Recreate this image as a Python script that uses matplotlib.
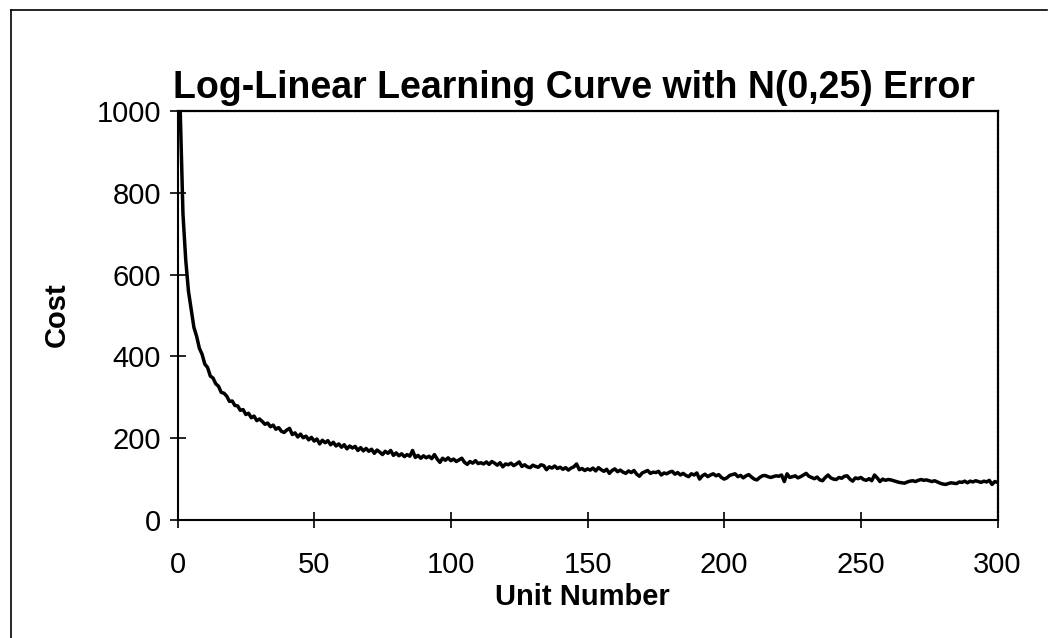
import matplotlib
matplotlib.use("Agg")
import matplotlib.pyplot as plt
from matplotlib.lines import Line2D

# Unit cost for units 1..300: log-linear learning curve with N(0,25) error
unit_cost = [
    1000, 748, 637, 560, 516, 471, 449, 420, 405, 381,
    373, 352, 347, 333, 327, 312, 310, 303, 290, 291,
    280, 279, 268, 270, 258, 261, 250, 254, 243, 247,
    241, 234, 237, 228, 232, 222, 226, 217, 214, 220,
    224, 209, 213, 203, 210, 201, 205, 196, 202, 193,
    198, 186, 195, 189, 194, 184, 190, 181, 186, 178,
    184, 174, 181, 176, 180, 170, 177, 169, 175, 168,
    173, 163, 171, 166, 160, 168, 163, 170, 158, 164,
    157, 162, 155, 160, 156, 170, 153, 158, 151, 157,
    152, 156, 150, 160, 149, 141, 151, 146, 152, 145,
    149, 143, 147, 151, 141, 136, 143, 139, 145, 138,
    140, 137, 142, 136, 143, 139, 134, 140, 130, 137,
    135, 139, 133, 137, 142, 131, 135, 130, 128, 134,
    131, 129, 135, 133, 123, 130, 127, 132, 126, 129,
    124, 128, 122, 127, 130, 137, 123, 126, 121, 125,
    122, 127, 120, 128, 123, 119, 124, 114, 121, 125,
    118, 122, 117, 114, 120, 116, 121, 112, 107, 115,
    118, 121, 114, 117, 116, 119, 110, 115, 113, 117,
    119, 112, 116, 110, 114, 109, 106, 113, 110, 115,
    100, 108, 112, 106, 110, 113, 108, 111, 104, 100,
    103, 109, 111, 113, 106, 109, 103, 108, 111, 105,
    100, 98, 104, 108, 109, 106, 104, 106, 108, 107,
    110, 94, 113, 104, 106, 108, 103, 106, 110, 114,
    107, 104, 101, 105, 98, 96, 104, 110, 103, 100,
    99, 104, 102, 107, 108, 100, 95, 103, 101, 104,
    99, 97, 101, 96, 110, 103, 94, 100, 97, 99,
    98, 96, 94, 92, 91, 90, 93, 95, 96, 94,
    97, 99, 97, 98, 96, 94, 96, 93, 90, 88,
    87, 89, 91, 90, 89, 93, 92, 95, 91, 95,
    93, 96, 94, 92, 95, 93, 97, 87, 94, 92,
]
units = list(range(1, len(unit_cost) + 1))

x_ticks = [0, 50, 100, 150, 200, 250, 300]
y_ticks = [0, 200, 400, 600, 800, 1000]

chart_title = "Log-Linear Learning Curve with N(0,25) Error"
x_title = "Unit Number"
y_title = "Cost"

W, H = 1058, 638


def fx(px):
    return px / W


def fy(py):
    return 1 - py / H


def main():
    plt.rcParams["font.family"] = ["Liberation Sans", "DejaVu Sans"]
    fig = plt.figure(figsize=(W / 100, H / 100), dpi=100)

    # plot area
    ax = fig.add_axes([fx(177.5), fy(520), fx(997.5) - fx(177.5), fy(111) - fy(520)])
    ax.plot(units, unit_cost, color="black", lw=2.5, solid_joinstyle="round")
    ax.set_xlim(0, 300)
    ax.set_ylim(0, 1000)
    ax.set_xticks(x_ticks)
    ax.set_yticks(y_ticks)
    ax.tick_params(direction="inout", length=12, width=1.2, labelsize=21,
                   color="black")
    ax.tick_params(axis="y", pad=6)
    ax.tick_params(axis="x", pad=16)
    for side in ("left", "bottom"):
        ax.spines[side].set_linewidth(1.5)
    for side in ("top", "right"):
        ax.spines[side].set_linewidth(1.6)
        ax.spines[side].set_linestyle((0, (1.2, 0.8)))

    # titles
    fig.text(fx(574), fy(88), chart_title, ha="center", va="center",
             fontsize=27, fontweight="bold")
    fig.text(fx(582), fy(597), x_title, ha="center", va="center",
             fontsize=21, fontweight="bold")
    fig.text(fx(57), fy(315), y_title, ha="center", va="center",
             fontsize=21, fontweight="bold", rotation=90)

    # chart area frame
    fig.add_artist(Line2D([fx(11), fx(11)], [fy(10), 0], color="black", lw=1.2))
    fig.add_artist(Line2D([fx(11), fx(1047)], [fy(10), fy(10)], color="black", lw=1.2))

    fig.savefig("out.png", dpi=100)


if __name__ == "__main__":
    main()
